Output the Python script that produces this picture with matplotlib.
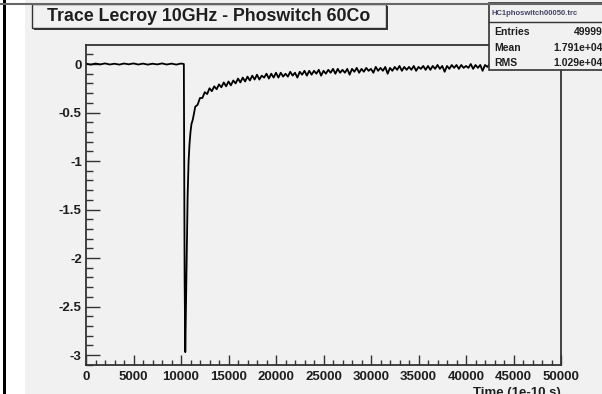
import numpy as np
import matplotlib.pyplot as plt
from matplotlib.patches import Rectangle
from matplotlib.ticker import MultipleLocator

plt.rcParams['font.family'] = ['Liberation Sans', 'DejaVu Sans']
plt.rcParams['font.weight'] = 'bold'

# scope trace, time in units of 1e-10 s, amplitude in V
t_baseline = np.arange(0, 10300, 500)
v_baseline = [0.004, -0.006, 0.005, -0.004, 0.006, -0.005, 0.003, -0.006, 0.005, -0.003, 0.006,
              -0.005, 0.004, -0.006, 0.003, -0.004, 0.006, -0.005, 0.004, -0.006, 0.005]

t_pulse = [10300, 10330, 10380, 10450, 10520, 10600, 10700, 10800, 10900, 11000, 11100]
v_pulse = [0.0, -0.8, -2.2, -2.97, -2.5, -1.9, -1.35, -1.0, -0.82, -0.7, -0.62]

t_tail = np.arange(11250, 50001, 250)
v_tail = [-0.57, -0.44, -0.42, -0.35,
          -0.35, -0.29, -0.31, -0.25,
          -0.28, -0.23, -0.26, -0.21,
          -0.24, -0.19, -0.23, -0.18,
          -0.22, -0.17, -0.20, -0.15,
          -0.19, -0.14, -0.18, -0.13,
          -0.17, -0.12, -0.16, -0.11,
          -0.16, -0.12, -0.14, -0.10,
          -0.15, -0.10, -0.14, -0.09,
          -0.14, -0.09, -0.13, -0.10,
          -0.13, -0.08, -0.12, -0.09,
          -0.14, -0.08, -0.11, -0.07,
          -0.12, -0.07, -0.11, -0.07,
          -0.10, -0.06, -0.12, -0.07,
          -0.10, -0.06, -0.09, -0.05,
          -0.10, -0.05, -0.09, -0.06,
          -0.09, -0.05, -0.11, -0.05,
          -0.08, -0.04, -0.09, -0.05,
          -0.08, -0.04, -0.07, -0.05,
          -0.09, -0.03, -0.07, -0.04,
          -0.07, -0.03, -0.10, -0.04,
          -0.07, -0.03, -0.06, -0.02,
          -0.07, -0.03, -0.06, -0.03,
          -0.06, -0.02, -0.07, -0.03,
          -0.05, -0.02, -0.06, -0.02,
          -0.06, -0.02, -0.05, -0.01,
          -0.05, -0.02, -0.08, -0.02,
          -0.05, -0.01, -0.04, -0.01,
          -0.05, -0.01, -0.04, -0.02,
          -0.04, 0.00, -0.05, -0.01,
          -0.04, -0.01, -0.07, -0.01,
          -0.03, 0.00, -0.04, -0.01,
          -0.04, 0.00, -0.03, -0.01,
          -0.03, 0.01, -0.04, 0.00,
          -0.03, 0.00, -0.05, -0.01,
          -0.03, 0.01, -0.03, 0.00,
          -0.04, 0.00, -0.02, 0.01,
          -0.03, 0.00, -0.04, 0.00,
          -0.02, 0.01, -0.03, 0.00]

title = "Trace Lecroy 10GHz - Phoswitch 60Co"
hist_name = "HC1phoswitch00050.trc"
stat_names = ["Entries", "Mean", "RMS"]
stat_values = ["49999", "1.791e+04", "1.029e+04"]

t = np.concatenate([t_baseline, t_pulse, t_tail])
v = np.concatenate([v_baseline, v_pulse, v_tail])

W, H = 602, 394
bg = '#f1f1f1'
ink = '#1e1e1e'
fig = plt.figure(figsize=(W / 100, H / 100), dpi=100)
fig.patch.set_facecolor(bg)

# frame of the plot in pixels: left, right, top, bottom
L, R, T, B = 86, 561, 45, 365
ax = fig.add_axes([L / W, 1 - B / H, (R - L) / W, (B - T) / H])
ax.set_facecolor(bg)
ax.plot(t, v, color='black', lw=1.3)
ax.set_xlim(0, 50000)
ax.set_ylim(-3.103, 0.196)

ax.xaxis.set_major_locator(MultipleLocator(5000))
ax.xaxis.set_minor_locator(MultipleLocator(1000))
ax.yaxis.set_minor_locator(MultipleLocator(0.1))
ax.set_yticks(np.arange(-3, 0.01, 0.5))
ax.set_yticklabels(['-3', '-2.5', '-2', '-1.5', '-1', '-0.5', '0'])
ax.tick_params(axis='both', which='both', direction='in', top=False, right=False,
               labelsize=9.5, width=1.0, colors='#333333', labelcolor=ink)
ax.tick_params(axis='x', which='major', length=7, pad=4)
ax.tick_params(axis='x', which='minor', length=3.5)
ax.tick_params(axis='y', which='major', length=10, pad=3)
ax.tick_params(axis='y', which='minor', length=5)
for s in ax.spines.values():
    s.set_linewidth(1.3)
    s.set_color('#333333')
for lab in ax.get_xticklabels() + ax.get_yticklabels():
    lab.set_fontweight('bold')

# canvas decorations, title pave and stats box drawn in pixel coordinates
ov = fig.add_axes([0, 0, 1, 1])
ov.set_xlim(0, W)
ov.set_ylim(H, 0)
ov.axis('off')
ov.patch.set_alpha(0)

ov.add_patch(Rectangle((0, 0), 25, H, facecolor='white', edgecolor='none'))
ov.add_patch(Rectangle((3, 0), 3, H, facecolor='black', edgecolor='none'))
ov.plot([0, W], [4, 4], color='#666666', lw=1.5)

ov.add_patch(Rectangle((34, 6), 354, 24, facecolor='#333333', edgecolor='none'))
ov.add_patch(Rectangle((32, 4), 354, 24, facecolor=bg, edgecolor='#333333', lw=1.0))
ov.text(209, 16.5, title, ha='center', va='center', fontsize=12.8, fontweight='bold',
        color=ink)

ov.add_patch(Rectangle((489, 3), 125, 67, facecolor=bg, edgecolor='#333333', lw=1.2))
ov.plot([489, W], [22, 22], color='#333333', lw=1.0)
ov.text(492, 13, hist_name, ha='left', va='center', fontsize=5.5, color='#444466')
for i, (name, val) in enumerate(zip(stat_names, stat_values)):
    y = 32 + 15.5 * i
    ov.text(494, y, name, ha='left', va='center', fontsize=7.5, fontweight='bold', color=ink)
    ov.text(603, y, val, ha='right', va='center', fontsize=7.5, fontweight='bold', color=ink)

ov.text(R, 399, "Time (1e-10 s)", ha='right', va='bottom', fontsize=9.5, fontweight='bold',
        color=ink)

fig.savefig('out.png', dpi=100, facecolor=bg)
